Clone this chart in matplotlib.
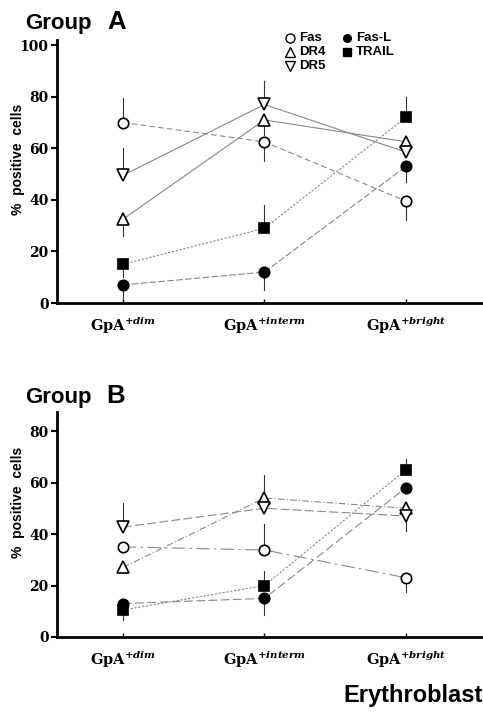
import matplotlib
matplotlib.use("Agg")
import matplotlib.pyplot as plt
import numpy as np

plt.rcParams['mathtext.fontset'] = 'custom'
plt.rcParams['mathtext.rm'] = 'DejaVu Serif:bold'
plt.rcParams['mathtext.bf'] = 'DejaVu Serif:bold'
plt.rcParams['mathtext.it'] = 'DejaVu Serif:italic:bold'

categories = ['dim', 'interm', 'bright']
series = ['Fas', 'DR4', 'DR5', 'Fas-L', 'TRAIL']

# Group A values (% positive cells)
a_fas = [70, 62.5, 39.5]
a_dr4 = [32.5, 71, 62.5]
a_dr5 = [49.5, 77, 58.5]
a_fasl = [7, 12, 53]
a_trail = [15, 29, 72]
# one-sided error bar ends (None = no bar)
a_fas_err = [79.5, 55, 32]
a_dr4_err = [26, 65, None]
a_dr5_err = [60, 86, None]
a_fasl_err = [2, 5, 47]
a_trail_err = [10, 38, 80]

# Group B values
b_fas = [35, 33.8, 23]
b_dr4 = [27, 54, 50]
b_dr5 = [42.7, 50, 47]
b_fasl = [13, 15, 58]
b_trail = [10.5, 20, 65]
b_fas_err = [None, 44, 17.5]
b_dr4_err = [None, 63, None]
b_dr5_err = [52, None, 41]
b_fasl_err = [None, 8.5, None]
b_trail_err = [6.5, 25.5, 69]

markers = {'Fas': ('o', 'white'), 'DR4': ('^', 'white'), 'DR5': ('v', 'white'),
           'Fas-L': ('o', 'black'), 'TRAIL': ('s', 'black')}
msize = {'o': 7.5, '^': 8, 'v': 8, 's': 6.8}
styles_a = {'Fas': (0, (5, 3)), 'DR4': '-', 'DR5': '-', 'Fas-L': (0, (6, 2)), 'TRAIL': (0, (2, 1.5))}
styles_b = {'Fas': (0, (12, 4, 2, 4)), 'DR4': (0, (6, 2, 1, 2)), 'DR5': (0, (8, 3)),
            'Fas-L': (0, (8, 3)), 'TRAIL': (0, (2, 1.5))}

fig = plt.figure(figsize=(4.83, 7.14), dpi=100)

def panel(rect, data, errs, styles, ytop, yticks):
    ax = fig.add_axes(rect)
    x = np.arange(len(categories))
    for name in series:
        vals = data[name]
        m, fc = markers[name]
        for xi, v, e in zip(x, vals, errs[name]):
            if e is not None:
                ax.plot([xi, xi], [v, e], color='#333333', lw=0.8, zorder=2)
        ax.plot(x, vals, color='#888888', lw=0.8, linestyle=styles[name], zorder=1)
        ax.plot(x, vals, linestyle='none', marker=m, markersize=msize[m],
                markerfacecolor=fc, markeredgecolor='black', markeredgewidth=1.2, zorder=3)
    ax.set_xlim(-0.466, 2.544)
    ax.set_ylim(0, ytop)
    ax.set_yticks(yticks)
    ax.set_yticklabels([str(t) for t in yticks], fontfamily='DejaVu Serif',
                       fontweight='bold', fontsize=10)
    ax.set_xticks(x)
    ax.set_xticklabels([r'$\mathbf{GpA}^{\mathit{+%s}}$' % c for c in categories], fontsize=10.5)
    ax.tick_params(axis='x', direction='in', length=3, width=1, pad=9)
    ax.tick_params(axis='y', length=4, width=1.5, pad=2)
    for s in ['top', 'right']:
        ax.spines[s].set_visible(False)
    ax.spines['left'].set_linewidth(2)
    ax.spines['bottom'].set_linewidth(2)
    ax.set_ylabel('%  positive  cells', fontfamily='Liberation Sans', fontweight='bold',
                  fontsize=10, labelpad=2)
    return ax

data_a = dict(zip(series, [a_fas, a_dr4, a_dr5, a_fasl, a_trail]))
err_a = dict(zip(series, [a_fas_err, a_dr4_err, a_dr5_err, a_fasl_err, a_trail_err]))
data_b = dict(zip(series, [b_fas, b_dr4, b_dr5, b_fasl, b_trail]))
err_b = dict(zip(series, [b_fas_err, b_dr4_err, b_dr5_err, b_fasl_err, b_trail_err]))

axA = panel([57/483, 1 - 303/714, 1 - 57/483, 263/714], data_a, err_a, styles_a,
            102, [0, 20, 40, 60, 80, 100])
axB = panel([57/483, 1 - 637/714, 1 - 57/483, 225/714], data_b, err_b, styles_b,
            87.4, [0, 20, 40, 60, 80])
axA.yaxis.set_label_coords(-0.075, 0.545)
axB.yaxis.set_label_coords(-0.075, 0.60)

# Titles
fig.text(25/483, 1 - 29/714, 'Group', fontfamily='Liberation Sans', fontweight='bold', fontsize=16)
fig.text(107/483, 1 - 29/714, 'A', fontfamily='Liberation Sans', fontweight='bold', fontsize=18.5)
fig.text(25/483, 1 - 403/714, 'Group', fontfamily='Liberation Sans', fontweight='bold', fontsize=16)
fig.text(106/483, 1 - 403/714, 'B', fontfamily='Liberation Sans', fontweight='bold', fontsize=18.5)

# Legend
leg = [('Fas', 290, 38), ('DR4', 290, 52), ('DR5', 290, 66), ('Fas-L', 347, 38), ('TRAIL', 347, 52)]
for name, px, py in leg:
    m, fc = markers[name]
    fig.lines.append(matplotlib.lines.Line2D([px/483], [1 - py/714], transform=fig.transFigure,
                     marker=m, markersize=6.5 if fc == 'white' else 5.5, markerfacecolor=fc,
                     markeredgecolor='black', markeredgewidth=1.0, linestyle='none'))
    fig.text((px + 9)/483, 1 - py/714, name, fontfamily='Liberation Sans', fontweight='bold',
             fontsize=9.5, va='center')

fig.text(1.0, 1 - 702/714, 'Erythroblast', fontfamily=['Liberation Sans Narrow', 'Liberation Sans'],
         fontweight='bold', fontsize=17, ha='right', va='baseline')

fig.savefig('out.png', dpi=100)
